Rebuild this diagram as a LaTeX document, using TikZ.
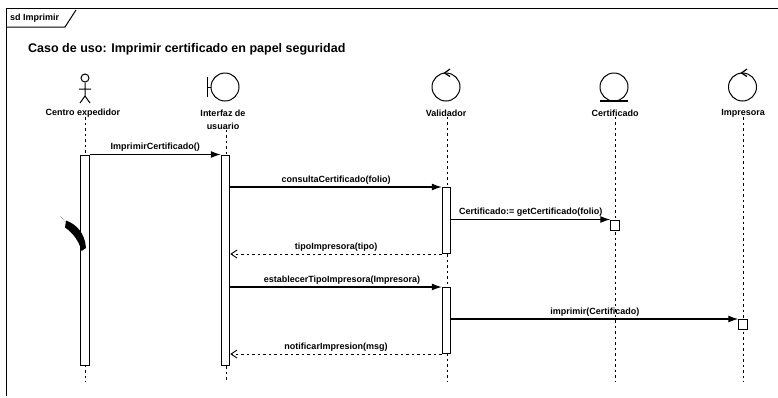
\documentclass[tikz,border=0pt]{standalone}
\usepackage{fontspec}
\setmainfont{Liberation Sans}
\usetikzlibrary{arrows.meta,calc}
\tikzset{
  lbl/.style={font=\bfseries\fontsize{9}{13}\selectfont,inner sep=0pt,align=center},
  msglbl/.style={font=\bfseries\fontsize{9}{13}\selectfont,inner sep=0pt},
  lifeline/.style={line width=0.9pt,dash pattern=on 2.5pt off 3pt},
  bar/.style={draw,fill=white,line width=1pt,inner sep=0pt,minimum width=8.5pt},
  icon/.style={draw,circle,line width=1pt,inner sep=0pt,minimum size=28pt},
  call/.style={line width=1.1pt,-{Latex[length=10pt,width=7pt]}},
  back/.style={line width=0.9pt,dash pattern=on 2.5pt off 3pt,-{Straight Barb[length=6pt,width=8pt]}}
}
\begin{document}
\begin{tikzpicture}[x=1pt,y=-1pt,>=Latex]
  \useasboundingbox (0,0) rectangle (778,397);
  % Frame
  \draw[line width=1pt] (6,396) -- (6,8) -- (778,8);
  \draw[line width=1pt] (6,27) -- (65,27) -- (76,10);
  \node[lbl,anchor=west] (tabname) at (10,18.5) {sd Imprimir};
  \node[anchor=west,inner sep=0pt,font=\bfseries\fontsize{12.5}{14}\selectfont] (titulo) at (28,49) {Caso de uso: Imprimir certificado en papel seguridad};
  % Centro expedidor (actor)
  \node[draw,circle,line width=1pt,inner sep=0pt,minimum size=8pt] (head) at (85,78) {};
  \coordinate (hip) at (85,96);
  \draw[line width=1pt] (head) -- (hip) (79,89) -- (91,89) (80,103) -- (hip) -- (90,103);
  \node[lbl] (centro) at (83,113) {Centro expedidor};
  % Interfaz de usuario (boundary)
  \node[icon] (interfaz) at (225,87) {};
  \draw[line width=1pt] (207,77) -- (207,97) (207,87) -- (interfaz);
  \node[lbl] (interfazlbl) at (223,119.5) {Interfaz de\\usuario};
  % Validador (control)
  \node[icon] (validador) at (446,87) {};
  \draw[line width=1.2pt] (450,69) -- (444.5,73) -- (450,76.5);
  \node[lbl] (validadorlbl) at (446,113) {Validador};
  % Certificado (entity)
  \node[icon] (certificado) at (614,87) {};
  \draw[line width=1.2pt] (600,101) -- (628,101);
  \node[lbl] (certificadolbl) at (615,113) {Certificado};
  % Impresora (control)
  \node[icon] (impresora) at (742.5,87) {};
  \draw[line width=1.2pt] (747,69) -- (741.5,73) -- (747,76.5);
  \node[lbl] (impresoralbl) at (743,113) {Impresora};
  % Lifelines
  \coordinate (endcentro) at (85,382);
  \coordinate (endinterfaz) at (226,382);
  \coordinate (endvalidador) at (447,382);
  \coordinate (endcertificado) at (615,382);
  \coordinate (endimpresora) at (743,382);
  \draw[lifeline] (centro.south -| endcentro) -- (endcentro);
  \draw[lifeline] (interfazlbl.south -| endinterfaz) -- (endinterfaz);
  \draw[lifeline] (validadorlbl.south -| endvalidador) -- (endvalidador);
  \draw[lifeline] (certificadolbl.south -| endcertificado) -- (endcertificado);
  \draw[lifeline] (impresoralbl.south -| endimpresora) -- (endimpresora);
  % Activations
  \node[bar,minimum height=210pt] (barcentro) at (85,260) {};
  \node[bar,minimum height=210pt] (barinterfaz) at (225.5,260) {};
  \node[bar,minimum height=66pt] (barvalA) at (446.5,220.5) {};
  \node[bar,minimum height=66pt] (barvalB) at (446.5,320.5) {};
  \node[bar,minimum height=10pt] (barcert) at (615,225) {};
  \node[bar,minimum height=10pt] (barimp) at (743,324.5) {};
  % Messages
  \draw[call] (barcentro.north east) -- node[msglbl,above=2.5pt] (msgA) {ImprimirCertificado()} (barinterfaz.north west);
  \draw[call] (barinterfaz.east |- barvalA.north) -- node[msglbl,above=2.5pt] (msgB) {consultaCertificado(folio)} (barvalA.north west);
  \draw[call] (barvalA.east |- barcert.north) -- node[msglbl,above=2.5pt] (msgC) {Certificado:= getCertificado(folio)} (barcert.north west);
  \draw[back] (barvalA.south west) -- node[msglbl,above=2.5pt] (msgD) {tipoImpresora(tipo)} (barinterfaz.east |- barvalA.south);
  \draw[call] (barinterfaz.east |- barvalB.north) -- node[msglbl,above=2.5pt,xshift=6pt] (msgE) {establecerTipoImpresora(Impresora)} (barvalB.north west);
  \draw[call] (barvalB.east |- barimp.north) -- node[msglbl,above=2.5pt] (msgF) {imprimir(Certificado)} (barimp.north west);
  \draw[back] (barvalB.south west) -- node[msglbl,above=2.5pt] (msgG) {notificarImpresion(msg)} (barinterfaz.east |- barvalB.south);
  % Scan mark
  \fill[black] (66,220.5) .. controls (76,224) and (85,233) .. (86,248) -- (81.5,251) .. controls (79,241) and (73,233) .. (65,227.5) -- cycle;
  \draw[gray,line width=0.7pt,densely dotted] (60,216) -- (66,222);
\end{tikzpicture}
\end{document}
